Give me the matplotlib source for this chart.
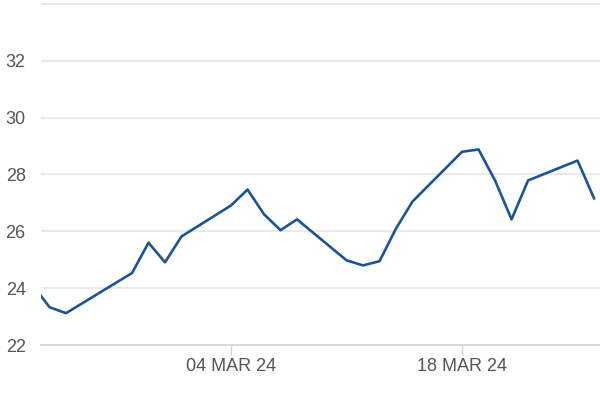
import pandas as pd
import matplotlib.pyplot as plt

dates = ['2024-02-21', '2024-02-22', '2024-02-23', '2024-02-26', '2024-02-27',
         '2024-02-28', '2024-02-29', '2024-03-01', '2024-03-04', '2024-03-05',
         '2024-03-06', '2024-03-07', '2024-03-08', '2024-03-11', '2024-03-12',
         '2024-03-13', '2024-03-14', '2024-03-15', '2024-03-18', '2024-03-19',
         '2024-03-20', '2024-03-21', '2024-03-22', '2024-03-25', '2024-03-26']
prices = [24.10, 23.33, 23.12, 24.18, 24.53,
          25.60, 24.91, 25.82, 26.91, 27.47,
          26.60, 26.04, 26.42, 24.98, 24.80,
          24.95, 26.10, 27.05, 28.80, 28.88,
          27.79, 26.42, 27.79, 28.49, 27.16]
y_ticks = [22, 24, 26, 28, 30, 32]
top_grid = 34
x_ticks = ['2024-03-04', '2024-03-18']

plt.rcParams['font.family'] = ['Liberation Sans', 'DejaVu Sans']

x = pd.to_datetime(dates)

fig = plt.figure(figsize=(6, 4), dpi=100)
ax = fig.add_axes([41 / 600, 1 - 345 / 400, 1 - 41 / 600, 345 / 400])

ax.plot(x, prices, color='#1b5497', linewidth=1.9)

ax.set_ylim(22, 34.14)
start = pd.Timestamp('2024-03-04')
ax.set_xlim(start - pd.Timedelta(days=11.515), start + pd.Timedelta(days=22.36))

ax.set_yticks(y_ticks)
ax.set_yticklabels([str(v) for v in y_ticks])
ax.set_xticks(pd.to_datetime(x_ticks))
ax.set_xticklabels([pd.Timestamp(d).strftime('%d %b %y').upper() for d in x_ticks])

# grid, plus the top line whose label is cut off in the original
ax.grid(axis='y', color='#e3e5ea', linewidth=1.2)
ax.axhline(top_grid, color='#e3e5ea', linewidth=1.2, zorder=0)
ax.set_axisbelow(True)
for s in ['top', 'right', 'left']:
    ax.spines[s].set_visible(False)
ax.spines['bottom'].set_color('#cdd5df')
ax.spines['bottom'].set_linewidth(1.2)

ax.tick_params(axis='y', length=0, pad=11, labelsize=13, labelcolor='#555555')
ax.tick_params(axis='x', length=7.5, width=1, color='#cdd5df', pad=2,
               labelsize=13, labelcolor='#555555')

fig.savefig('out.png', dpi=100)
